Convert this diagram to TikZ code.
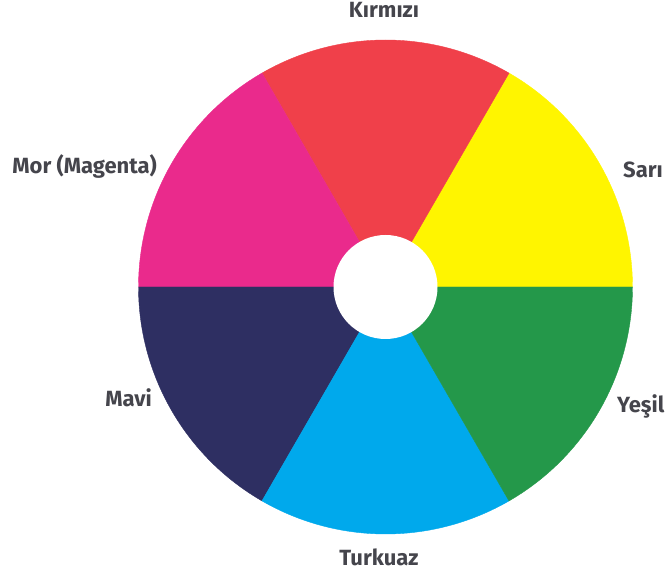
\documentclass[tikz,border=0pt]{standalone}
\usepackage{fontspec}
\setmainfont{Fira Sans}
\usepackage{tikz}
\definecolor{wred}{HTML}{F0404A}
\definecolor{wyellow}{HTML}{FFF500}
\definecolor{wgreen}{HTML}{24984A}
\definecolor{wcyan}{HTML}{00A9EC}
\definecolor{wnavy}{HTML}{2E2F62}
\definecolor{wmagenta}{HTML}{EA2A8C}
\definecolor{wtext}{HTML}{45454C}
\tikzset{
  lbl/.style={font=\bfseries\fontsize{22}{26}\selectfont,text=wtext,inner sep=0pt},
  sector/.style={fill=#1,draw=#1,line width=0.4pt},
}
\begin{document}
\begin{tikzpicture}[x=1pt,y=1pt]
\useasboundingbox (0,0) rectangle (669,573);
\coordinate (c) at (385.5,286);
% six sectors of the wheel
\foreach \a/\col in {0/wyellow,60/wred,120/wmagenta,180/wnavy,240/wcyan,300/wgreen}
  \path[sector=\col] (c) -- ++(\a:247) arc[start angle=\a,end angle=\a+60,radius=247] -- cycle;
\fill[white] (c) circle[radius=52];
% labels
\node[lbl,anchor=base] (kirmizi) at (384,555) {Kırmızı};
\node[lbl,anchor=base east] (mor) at (157,399) {Mor (Magenta)};
\node[lbl,anchor=base west] (sari) at (623,395) {Sarı};
\node[lbl,anchor=base west] (yesil) at (617,160) {Yeşil};
\node[lbl,anchor=base east] (mavi) at (152,166) {Mavi};
\node[lbl,anchor=base] (turkuaz) at (379,8) {Turkuaz};
\end{tikzpicture}
\end{document}
